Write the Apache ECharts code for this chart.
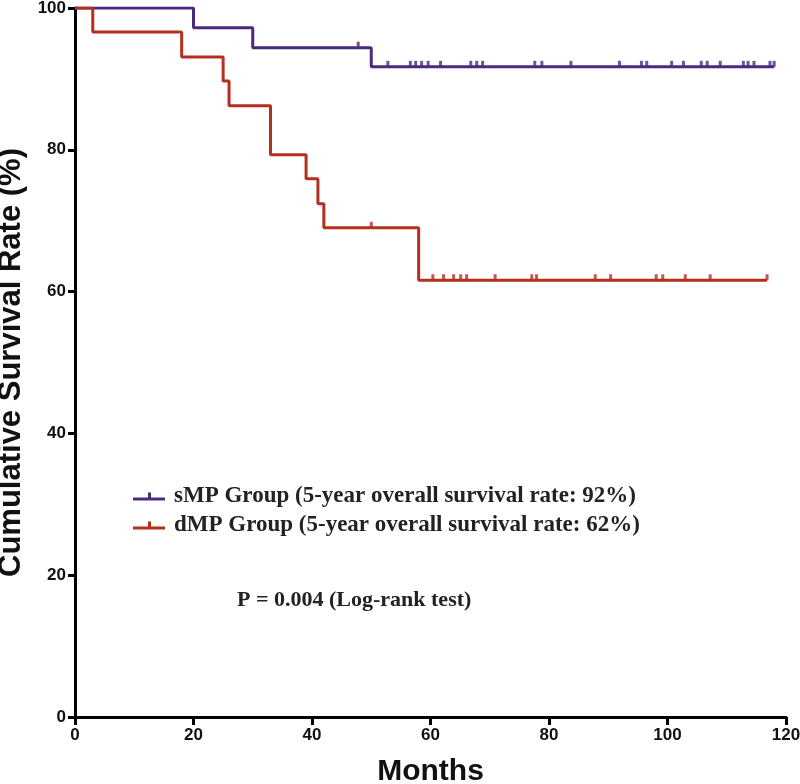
<!DOCTYPE html>
<html>
<head>
<meta charset="utf-8">
<script src="https://cdn.jsdelivr.net/npm/echarts@6/dist/echarts.min.js"></script>
<style>html,body{margin:0;padding:0;background:#fff}#c{width:800px;height:784px}</style>
</head>
<body>
<div id="c"></div>
<script>
// ---- data ----
var smpTimes = [0, 20, 30, 50, 118];
var smpSurv = [100, 97.2, 94.4, 91.7, 91.7];
var smpCensor = [47.8, 52.8, 56.6, 57.5, 58.5, 59.6, 61.7, 66.8, 67.8, 68.8, 77.6, 78.8, 83.7, 91.9, 95.6, 96.5, 100.7, 102.7, 105.7, 106.7, 108.9, 112.8, 113.6, 114.6, 117.3, 118];

var dmpTimes = [0, 3, 18, 25, 26, 33, 39, 41, 42, 58, 116.8];
var dmpSurv = [100, 96.6, 93.1, 89.7, 86.2, 79.3, 75.9, 72.4, 69.0, 61.6, 61.6];
var dmpCensor = [50, 60.4, 62.2, 63.9, 65.1, 66.1, 70.9, 77.1, 77.9, 87.8, 90.4, 98.1, 99.2, 103, 107.2, 116.8];

var xTicks = [0, 20, 40, 60, 80, 100, 120];
var yTicks = [0, 20, 40, 60, 80, 100];

var smpName = 'sMP Group (5-year overall survival rate: 92%)';
var dmpName = 'dMP Group (5-year overall survival rate: 62%)';
var pText = 'P = 0.004 (Log-rank test)';

// ---- helpers ----
function pairs(t, s) { return t.map(function (v, i) { return [v, s[i]]; }); }
function survAt(t, s, x) {
  var v = s[0];
  for (var i = 0; i < t.length; i++) { if (t[i] <= x) v = s[i]; }
  return v;
}
function censorPts(c, t, s) { return c.map(function (x) { return [x, survAt(t, s, x)]; }); }

var purple = '#4a2a7e';
var red = '#b3301e';
var sansBold = "'Liberation Sans Narrow','Liberation Sans',Arial,sans-serif";
var serif = "'Liberation Serif','DejaVu Serif',serif";

var chart = echarts.init(document.getElementById('c'), null, { renderer: 'canvas' });
chart.setOption({
  animation: false,
  backgroundColor: '#fff',
  grid: { left: 75, right: 14, top: 8, bottom: 67, containLabel: false, outerBoundsMode: 'none' },
  xAxis: {
    type: 'value', min: 0, max: 120, interval: 20,
    name: 'Months', nameLocation: 'middle', nameGap: 40,
    nameTextStyle: { fontFamily: sansBold, fontWeight: 'bold', fontSize: 30, color: '#111' },
    axisLine: { show: true, lineStyle: { color: '#000', width: 3 } },
    axisTick: { show: true, length: 8, lineStyle: { color: '#000', width: 3 } },
    axisLabel: { fontFamily: sansBold, fontWeight: 'bold', fontSize: 17, color: '#111', margin: 10,
      formatter: function (v) { return xTicks.indexOf(v) >= 0 ? String(v) : ''; } },
    splitLine: { show: false }
  },
  yAxis: {
    type: 'value', min: 0, max: 100, interval: 20,
    name: 'Cumulative Survival Rate (%)', nameLocation: 'middle', nameGap: 40, nameRotate: 90,
    nameTextStyle: { fontFamily: sansBold, fontWeight: 'bold', fontSize: 31, color: '#111' },
    axisLine: { show: true, lineStyle: { color: '#000', width: 3 } },
    axisTick: { show: true, length: 7, lineStyle: { color: '#000', width: 3 } },
    axisLabel: { fontFamily: sansBold, fontWeight: 'bold', fontSize: 17, color: '#111', margin: 9,
      formatter: function (v) { return yTicks.indexOf(v) >= 0 ? String(v) : ''; } },
    splitLine: { show: false }
  },
  legend: {
    orient: 'vertical', left: 128, top: 480, itemGap: 6,
    itemWidth: 32, itemHeight: 10,
    data: [
      { name: smpName, icon: 'path://M0,7L32,7L32,10L0,10Z M15,2L18,2L18,7L15,7Z' },
      { name: dmpName, icon: 'path://M0,7L32,7L32,10L0,10Z M15,2L18,2L18,7L15,7Z' }
    ],
    textStyle: { fontFamily: serif, fontWeight: 'bold', fontSize: 23, color: '#222', padding: [0, 0, 0, 4] }
  },
  graphic: [{
    type: 'text', left: 237, top: 589,
    style: { text: pText, fontFamily: serif, fontWeight: 'bold', fontSize: 22, fill: '#222' }
  }],
  series: [
    { name: smpName, type: 'line', step: 'end', data: pairs(smpTimes, smpSurv), symbol: 'none',
      lineStyle: { color: purple, width: 3 }, itemStyle: { color: purple }, z: 3 },
    { name: dmpName, type: 'line', step: 'end', data: pairs(dmpTimes, dmpSurv), symbol: 'none',
      lineStyle: { color: red, width: 3 }, itemStyle: { color: red }, z: 3 },
    { name: 'smpCensor', type: 'scatter', data: censorPts(smpCensor, smpTimes, smpSurv),
      symbol: 'rect', symbolSize: [3, 6], symbolOffset: [0, -3], itemStyle: { color: purple }, z: 4 },
    { name: 'dmpCensor', type: 'scatter', data: censorPts(dmpCensor, dmpTimes, dmpSurv),
      symbol: 'rect', symbolSize: [3, 6], symbolOffset: [0, -3], itemStyle: { color: red }, z: 4 }
  ]
});
</script>
</body>
</html>
